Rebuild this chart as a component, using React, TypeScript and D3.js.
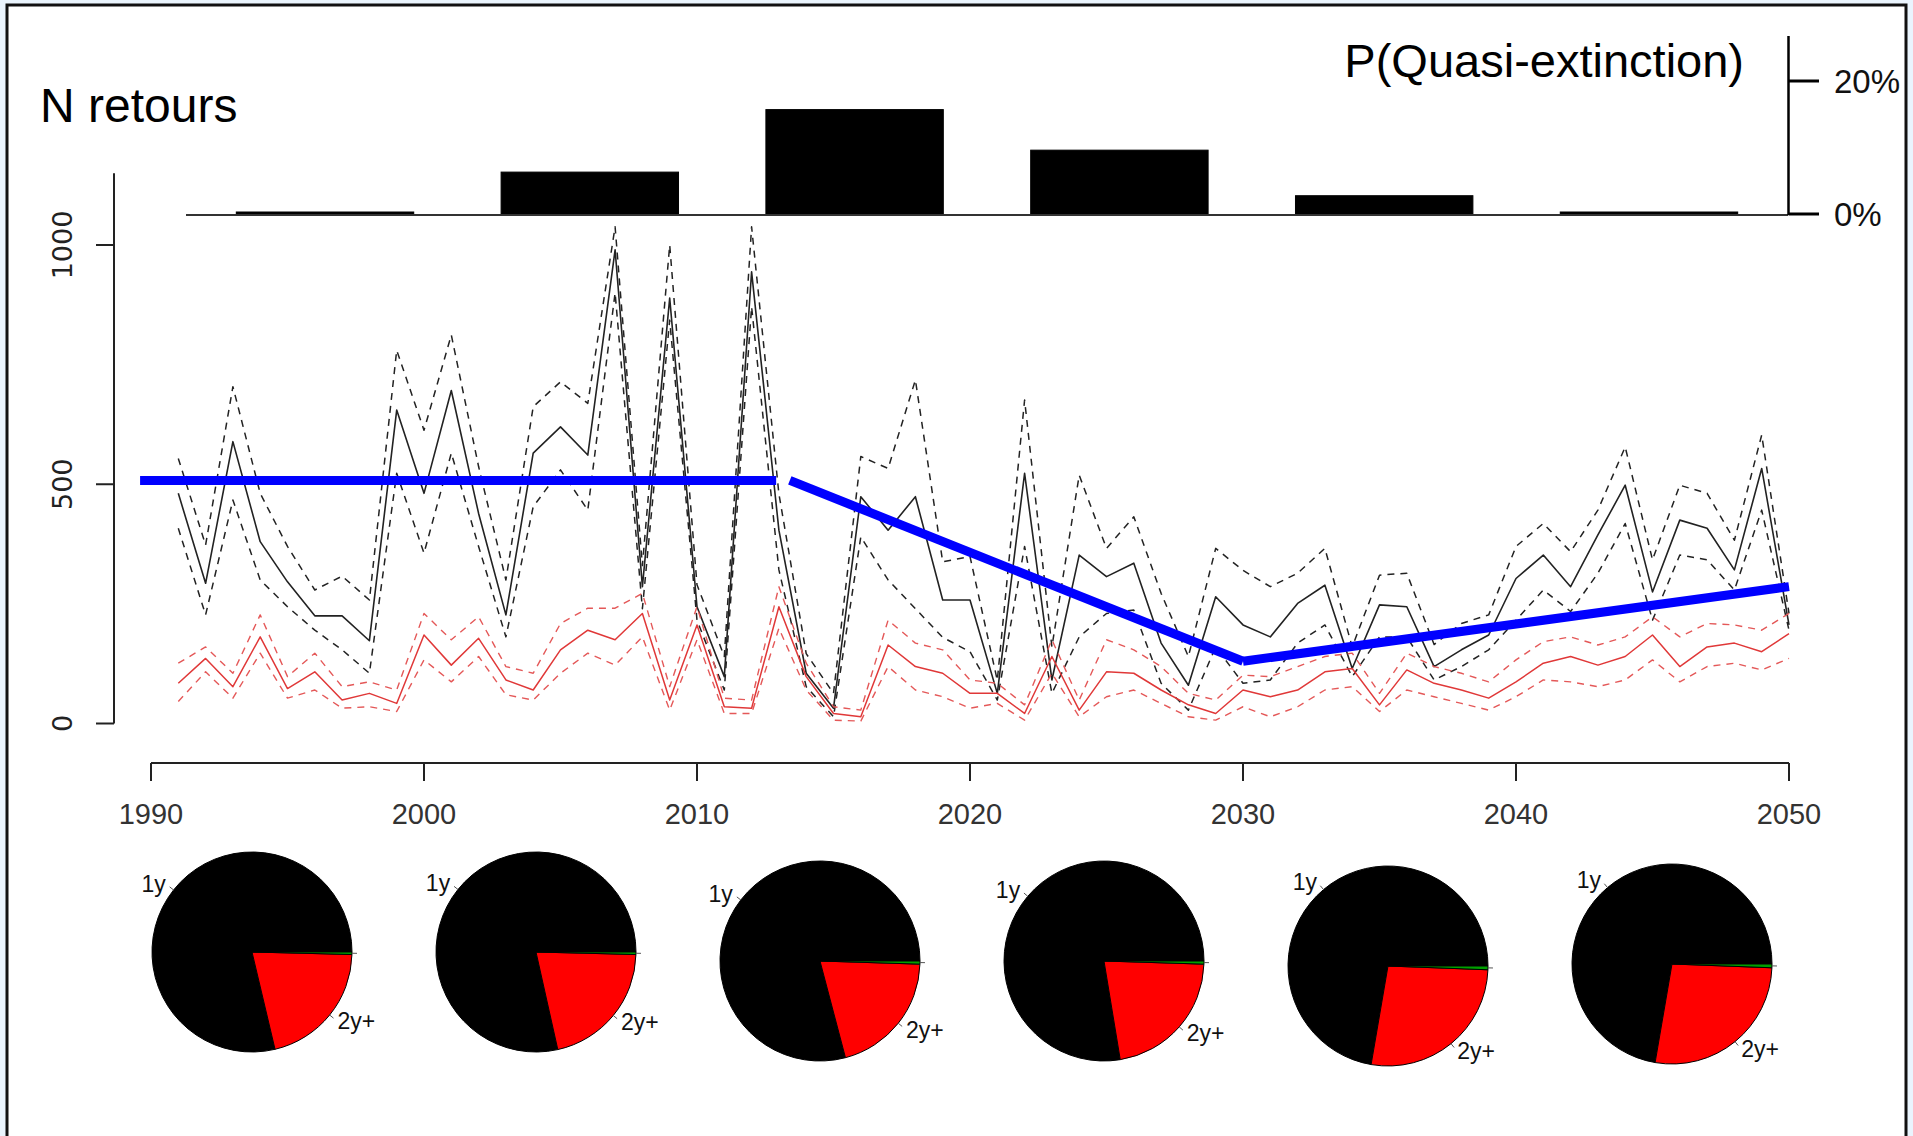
import * as d3 from "d3";

// simulated returns, 1991-2050
const years = d3.range(1991, 2051);

const totalMedian = [
  481, 293, 589, 380, 296, 225, 225, 173, 655, 481, 696, 439, 227, 565, 620,
  561, 990, 286, 889, 244, 98, 944, 404, 105, 32, 474, 404, 474, 258, 258,
  63, 523, 91, 352, 307, 335, 168, 80, 265, 206, 181, 251, 289, 115, 248,
  244, 119, 154, 185, 303, 352, 286, 394, 498, 275, 425, 408, 321, 533, 206,
];
const totalUpper = [
  554, 373, 704, 481, 370, 279, 308, 258, 780, 613, 812, 537, 300, 662, 714,
  669, 1038, 330, 1000, 290, 140, 1038, 480, 146, 63, 558, 533, 718, 338, 349,
  90, 676, 160, 519, 366, 432, 272, 140, 366, 320, 286, 314, 366, 160, 310,
  314, 165, 209, 227, 370, 418, 359, 446, 578, 342, 498, 481, 383, 603, 230,
];
const totalLower = [
  408, 227, 467, 300, 244, 195, 154, 105, 523, 356, 565, 370, 181, 453, 530,
  446, 900, 240, 843, 216, 70, 871, 321, 77, 14, 390, 300, 240, 180, 150,
  49, 370, 63, 181, 230, 237, 84, 28, 160, 84, 91, 168, 206, 98, 181,
  181, 91, 119, 154, 216, 279, 234, 314, 418, 216, 352, 342, 279, 446, 195,
];
const olderMedian = [
  84, 136, 77, 181, 73, 108, 49, 63, 42, 185, 122, 178, 91, 70, 154,
  195, 175, 230, 49, 206, 35, 32, 244, 98, 21, 14, 164, 119, 105, 63,
  63, 21, 140, 28, 108, 105, 70, 39, 21, 70, 56, 70, 108, 115, 39,
  112, 84, 70, 53, 87, 126, 140, 122, 140, 185, 119, 160, 168, 150, 188,
];
const olderUpper = [
  126, 160, 105, 227, 98, 147, 77, 87, 70, 230, 175, 223, 119, 105, 209,
  241, 241, 272, 77, 244, 53, 49, 286, 126, 35, 28, 216, 168, 154, 91,
  84, 39, 175, 49, 175, 154, 119, 63, 49, 101, 98, 119, 140, 147, 63,
  147, 119, 105, 87, 133, 171, 181, 164, 181, 223, 181, 209, 206, 195, 230,
];
const olderLower = [
  46, 108, 53, 147, 53, 70, 32, 35, 25, 133, 87, 140, 60, 49, 105,
  147, 122, 181, 28, 175, 21, 21, 199, 70, 7, 5, 119, 70, 56, 32,
  42, 7, 105, 14, 56, 70, 42, 14, 7, 35, 14, 35, 70, 77, 25,
  70, 56, 42, 28, 56, 91, 87, 77, 91, 133, 87, 119, 126, 112, 136,
];

// target trend (blue)
const trendSegments: [number, number][][] = [
  [[1989.6, 508], [2012.9, 508]],
  [[2013.4, 508], [2030, 130]],
  [[2030, 130], [2050, 286]],
];

// quasi-extinction probability per period
const periods = ["1991-2000", "2001-2010", "2011-2020", "2021-2030", "2031-2040", "2041-2050"];
const pExtinction = [0.003, 0.063, 0.157, 0.096, 0.0275, 0.003];

// age structure per period
const ageLabels = ["1y", "2y+", ""];
const ageColors = ["#000000", "#ff0000", "#00a000"];
const ageShares = [
  [0.787, 0.209, 0.004],
  [0.785, 0.211, 0.004],
  [0.791, 0.204, 0.005],
  [0.776, 0.219, 0.005],
  [0.723, 0.271, 0.006],
  [0.723, 0.271, 0.006],
];

const xTicks = [1990, 2000, 2010, 2020, 2030, 2040, 2050];
const yTicks = [0, 500, 1000];
const pTicks = [0, 0.2];

const W = 1913;
const H = 1136;
const FONT = "'Liberation Sans', Arial, Helvetica, sans-serif";
// small vertical shifts of the pie row, as laid out in the original
const pieRowShift = [-6, -6, 3, 3, 8, 6];

export default function App() {
  const x = d3.scaleLinear().domain([1990, 2050]).range([151, 1789]);
  const y = d3.scaleLinear().domain([0, 1000]).range([723.5, 245]);
  const p = d3.scaleLinear().domain([0, 0.2]).range([214, 81]);
  const barX = d3.scaleBand().domain(periods).range([186, 1788]).paddingInner(0.33).paddingOuter(0.19);
  const pieX = d3.scalePoint().domain(periods).range([252, 1672]);
  const pieY = 958;
  const R = 100;

  const line = d3
    .line<number>()
    .x((_, i) => x(years[i]))
    .y((d) => y(d));
  const trendLine = d3
    .line<[number, number]>()
    .x((d) => x(d[0]))
    .y((d) => y(d[1]));

  const pie = d3
    .pie<number>()
    .value((d) => d)
    .sort(null)
    .startAngle(Math.PI / 2)
    .endAngle(Math.PI / 2 - 2 * Math.PI);
  const arc = d3.arc<d3.PieArcDatum<number>>().innerRadius(0).outerRadius(R);

  const series = [
    { values: totalUpper, color: "#222", dash: "7,6", w: 1.5 },
    { values: totalLower, color: "#222", dash: "7,6", w: 1.5 },
    { values: totalMedian, color: "#222", dash: null, w: 1.6 },
    { values: olderUpper, color: "#e45858", dash: "7,6", w: 1.4 },
    { values: olderLower, color: "#e45858", dash: "7,6", w: 1.4 },
    { values: olderMedian, color: "#e03838", dash: null, w: 1.5 },
  ];

  return (
    <>
      <style>{`body{margin:0}`}</style>
      <svg width={W} height={H} style={{ display: "block", fontFamily: FONT }}>
        <rect width={W} height={H} fill="#eaf4fd" />
        <rect x={7} y={5} width={1899} height={1300} fill="#fff" stroke="#111" strokeWidth={3} />

        {/* titles */}
        <text x={40} y={122} fontSize={48} fill="#000">
          N retours
        </text>
        <text x={1744} y={77} fontSize={47} fill="#000" textAnchor="end">
          P(Quasi-extinction)
        </text>

        {/* quasi-extinction bars */}
        <g>
          {periods.map((d, i) => (
            <rect
              key={d}
              x={barX(d)}
              y={p(pExtinction[i])}
              width={barX.bandwidth()}
              height={p(0) - p(pExtinction[i])}
              fill="#000"
              stroke="#000"
              strokeWidth={1}
            />
          ))}
          <line x1={barX.range()[0]} x2={barX.range()[1]} y1={p(0) + 1} y2={p(0) + 1} stroke="#333" strokeWidth={2} />
          <line x1={1788.5} x2={1788.5} y1={36} y2={p(0) + 1} stroke="#000" strokeWidth={2.5} />
          {pTicks.map((t) => (
            <g key={t}>
              <line x1={1788.5} x2={1819} y1={p(t)} y2={p(t)} stroke="#000" strokeWidth={3} />
              <text x={1834} y={p(t)} fontSize={33} dominantBaseline="central" fill="#111">
                {`${Math.round(t * 100)}%`}
              </text>
            </g>
          ))}
        </g>

        {/* y axis */}
        <g>
          <line x1={114} x2={114} y1={y(0)} y2={y(1150)} stroke="#222" strokeWidth={2} />
          {yTicks.map((t) => (
            <g key={t}>
              <line x1={96} x2={114} y1={y(t)} y2={y(t)} stroke="#222" strokeWidth={2} />
              <text
                transform={`translate(${62},${y(t)}) rotate(-90)`}
                textAnchor="middle"
                dominantBaseline="central"
                fontSize={27}
                fontFamily="'DejaVu Sans', Arial, sans-serif"
                fill="#222"
              >
                {t}
              </text>
            </g>
          ))}
        </g>

        {/* x axis */}
        <g>
          <line x1={x(1990)} x2={x(2050)} y1={763} y2={763} stroke="#222" strokeWidth={2} />
          {xTicks.map((t) => (
            <g key={t}>
              <line x1={x(t)} x2={x(t)} y1={763} y2={781} stroke="#222" strokeWidth={2} />
              <text x={x(t)} y={824} textAnchor="middle" fontSize={29} fill="#333">
                {t}
              </text>
            </g>
          ))}
        </g>

        {/* time series */}
        <g fill="none" strokeLinejoin="round">
          {series.map((s, i) => (
            <path
              key={i}
              d={line(s.values) ?? ""}
              stroke={s.color}
              strokeWidth={s.w}
              strokeDasharray={s.dash ?? undefined}
            />
          ))}
          {trendSegments.map((seg, i) => (
            <path key={i} d={trendLine(seg) ?? ""} stroke="#0000ff" strokeWidth={9} />
          ))}
        </g>

        {/* age structure pies */}
        {periods.map((d, i) => {
          const arcs = pie(ageShares[i]);
          return (
            <g key={d} transform={`translate(${pieX(d)},${pieY + pieRowShift[i]})`}>
              {arcs.map((a, j) => (
                <path key={j} d={arc(a) ?? ""} fill={ageColors[j]} stroke="#000" strokeWidth={1} />
              ))}
              {arcs.map((a, j) => {
                const m = (a.startAngle + a.endAngle) / 2;
                const sx = Math.sin(m);
                const sy = -Math.cos(m);
                return (
                  <g key={`l${j}`}>
                    <line x1={sx * R} y1={sy * R} x2={sx * R * 1.05} y2={sy * R * 1.05} stroke="#555" strokeWidth={1} />
                    <text
                      x={sx * R * 1.1}
                      y={sy * R * 1.1}
                      textAnchor={sx < 0 ? "end" : "start"}
                      dominantBaseline="central"
                      fontSize={23}
                      fill="#111"
                    >
                      {ageLabels[j]}
                    </text>
                  </g>
                );
              })}
            </g>
          );
        })}
      </svg>
    </>
  );
}
